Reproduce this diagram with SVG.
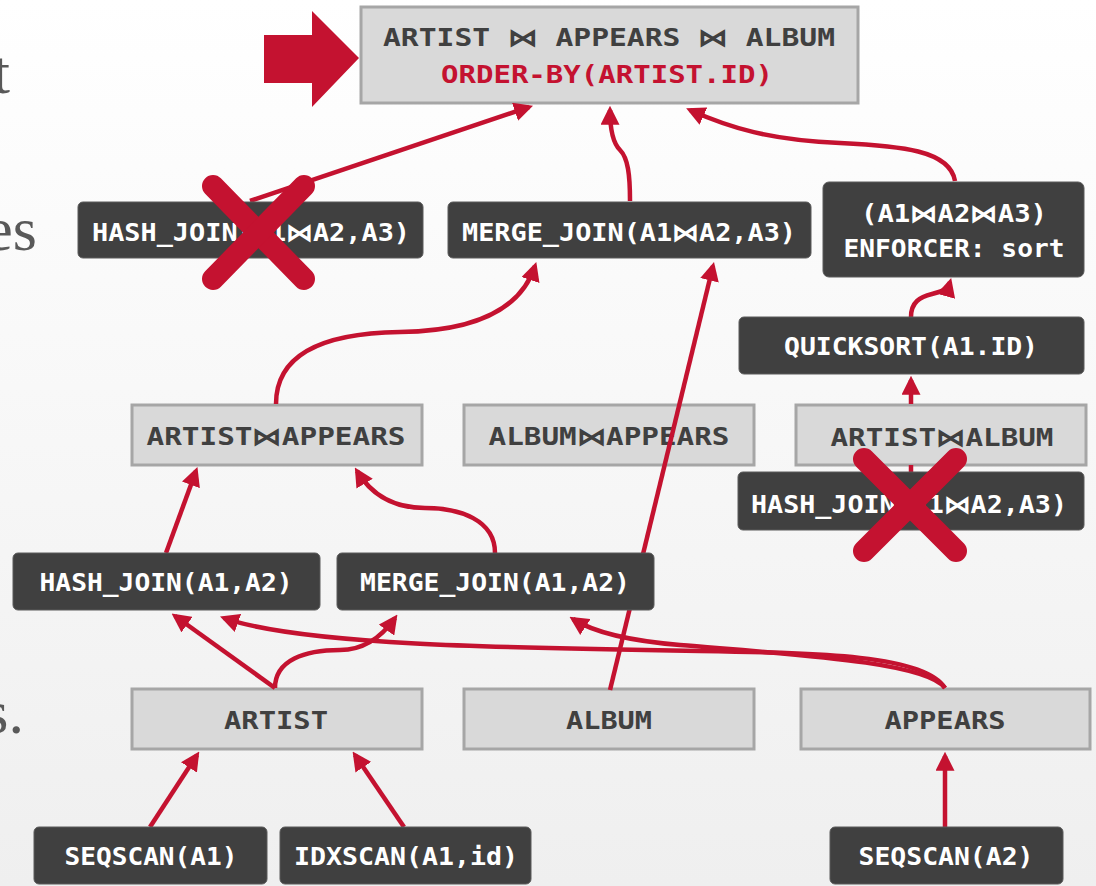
<svg xmlns="http://www.w3.org/2000/svg" width="1096" height="886" viewBox="0 0 1096 886">
<defs>
<linearGradient id="bg" x1="0" y1="0" x2="0" y2="1">
<stop offset="0" stop-color="#ffffff"/>
<stop offset="1" stop-color="#efefef"/>
</linearGradient>
<marker id="ah" markerUnits="userSpaceOnUse" markerWidth="19" markerHeight="19" viewBox="0 0 18 18" refX="14" refY="9" orient="auto">
<path d="M0,0 L18,9 L0,18 z" fill="#c41230"/>
</marker>
</defs>
<style>
.gray rect{fill:#d9d9d9;stroke:#a6a6a6;stroke-width:3}
.dark rect{fill:#404040;stroke:#5a5a5a;stroke-width:1}
text{font-family:"DejaVu Sans Mono","Liberation Mono",monospace;font-weight:bold;font-size:24px;text-anchor:middle}
.gray text{fill:#404040}
.gray text.redtext{fill:#c41230}
.dark text{fill:#ffffff}
.red{fill:#c41230}
.conn path{fill:none;stroke:#c41230;stroke-width:4.5;marker-end:url(#ah)}
.conn path.plain{marker-end:none}
.x line{stroke:#c41230;stroke-width:22;stroke-linecap:round}
.side{font-family:"Liberation Serif",serif;font-weight:normal;font-size:62px;fill:#595959;text-anchor:end}
</style>
<rect x="0" y="0" width="1096" height="886" fill="url(#bg)"/>
<g id="side-text">
<text class="side" x="10" y="93">t</text>
<text class="side" x="37" y="250">es</text>
<text class="side" x="24" y="733">s.</text>
</g>
<g id="pointer">
<polygon class="red" points="264,35 312,35 312,11 359,58 312,107 312,83 264,83"/>
</g>
<g id="n-root" class="gray">
<rect x="361" y="7" width="497" height="96"/>
<text x="609" y="46" textLength="452" lengthAdjust="spacingAndGlyphs">ARTIST ⋈ APPEARS ⋈ ALBUM</text>
<text x="607" y="83" textLength="332" lengthAdjust="spacingAndGlyphs" class="redtext">ORDER-BY(ARTIST.ID)</text>
</g>
<g id="n-artist-appears" class="gray">
<rect x="132" y="405" width="290" height="60"/>
<text x="276" y="445" textLength="259" lengthAdjust="spacingAndGlyphs">ARTIST⋈APPEARS</text>
</g>
<g id="n-album-appears" class="gray">
<rect x="464" y="405" width="290" height="60"/>
<text x="609" y="445" textLength="241" lengthAdjust="spacingAndGlyphs">ALBUM⋈APPEARS</text>
</g>
<g id="n-artist-album" class="gray">
<rect x="796" y="405" width="290" height="60"/>
<text x="942" y="446" textLength="223" lengthAdjust="spacingAndGlyphs">ARTIST⋈ALBUM</text>
</g>
<g id="n-artist" class="gray">
<rect x="132" y="689" width="290" height="60"/>
<text x="276" y="729" textLength="104" lengthAdjust="spacingAndGlyphs">ARTIST</text>
</g>
<g id="n-album" class="gray">
<rect x="464" y="689" width="290" height="60"/>
<text x="609" y="729" textLength="86" lengthAdjust="spacingAndGlyphs">ALBUM</text>
</g>
<g id="n-appears" class="gray">
<rect x="801" y="689" width="289" height="60"/>
<text x="945" y="729" textLength="121" lengthAdjust="spacingAndGlyphs">APPEARS</text>
</g>
<g id="connectors" class="conn">
<path d="M250,201 L529,107"/>
<path d="M630,201 C630,175 628,158 620,150 C613,143 610,130 610,110"/>
<path d="M955,181 C950,150 900,146 840,143 C770,140 730,128 690,110"/>
<path d="M911,317 C911,302 920,297 932,294 C944,291 948,289 950,282"/>
<path d="M911,404 L911,380"/>
<path class="plain" d="M911,472 L911,465"/>
<path d="M276,404 C276,350 330,333 400,332 C470,331 520,312 535,266"/>
<path d="M610,690 L713,266"/>
<path d="M166,553 L196,471"/>
<path d="M495,553 C495,520 460,508 425,508 C395,508 372,496 357,471"/>
<path d="M275,688 L175,616"/>
<path d="M275,688 C275,660 305,650 340,650 C365,650 383,635 395,618"/>
<path d="M945,688 C925,655 820,653 700,651 C500,648 300,645 224,618"/>
<path d="M945,688 C925,662 800,655 680,645 C620,640 590,630 573,619"/>
<path d="M150,827 L197,755"/>
<path d="M404,827 L355,755"/>
<path d="M945,827 L945,756"/>
</g>
<g id="n-hashjoin-a123-left" class="dark">
<rect x="78" y="202" width="345" height="56" rx="5"/>
<text x="251" y="241" textLength="318" lengthAdjust="spacingAndGlyphs">HASH_JOIN(A1⋈A2,A3)</text>
</g>
<g id="n-mergejoin-a123" class="dark">
<rect x="448" y="202" width="363" height="56" rx="5"/>
<text x="629" y="241" textLength="334" lengthAdjust="spacingAndGlyphs">MERGE_JOIN(A1⋈A2,A3)</text>
</g>
<g id="n-enforcer" class="dark">
<rect x="823" y="182" width="261" height="95" rx="6"/>
<text x="954" y="222" textLength="186" lengthAdjust="spacingAndGlyphs">(A1⋈A2⋈A3)</text>
<text x="954" y="257" textLength="221" lengthAdjust="spacingAndGlyphs">ENFORCER: sort</text>
</g>
<g id="n-quicksort" class="dark">
<rect x="739" y="317" width="345" height="57" rx="5"/>
<text x="911" y="355" textLength="254" lengthAdjust="spacingAndGlyphs">QUICKSORT(A1.ID)</text>
</g>
<g id="n-hashjoin-a123-right" class="dark">
<rect x="738" y="472" width="346" height="58" rx="5"/>
<text x="909" y="513" textLength="316" lengthAdjust="spacingAndGlyphs">HASH_JOIN(A1⋈A2,A3)</text>
</g>
<g id="n-hashjoin-a12" class="dark">
<rect x="13" y="553" width="307" height="57" rx="5"/>
<text x="166" y="591" textLength="253" lengthAdjust="spacingAndGlyphs">HASH_JOIN(A1,A2)</text>
</g>
<g id="n-mergejoin-a12" class="dark">
<rect x="337" y="553" width="317" height="57" rx="5"/>
<text x="495" y="591" textLength="270" lengthAdjust="spacingAndGlyphs">MERGE_JOIN(A1,A2)</text>
</g>
<g id="n-seqscan-a1" class="dark">
<rect x="34" y="827" width="233" height="57" rx="5"/>
<text x="151" y="865" textLength="173" lengthAdjust="spacingAndGlyphs">SEQSCAN(A1)</text>
</g>
<g id="n-idxscan-a1" class="dark">
<rect x="280" y="827" width="251" height="57" rx="5"/>
<text x="406" y="865" textLength="224" lengthAdjust="spacingAndGlyphs">IDXSCAN(A1,id)</text>
</g>
<g id="n-seqscan-a2" class="dark">
<rect x="830" y="827" width="233" height="57" rx="5"/>
<text x="946" y="865" textLength="175" lengthAdjust="spacingAndGlyphs">SEQSCAN(A2)</text>
</g>
<g id="x-marks" class="x">
<line x1="213" y1="186" x2="304" y2="279"/>
<line x1="304" y1="186" x2="213" y2="279"/>
<line x1="864" y1="459" x2="956" y2="551"/>
<line x1="956" y1="459" x2="864" y2="551"/>
</g>
</svg>
